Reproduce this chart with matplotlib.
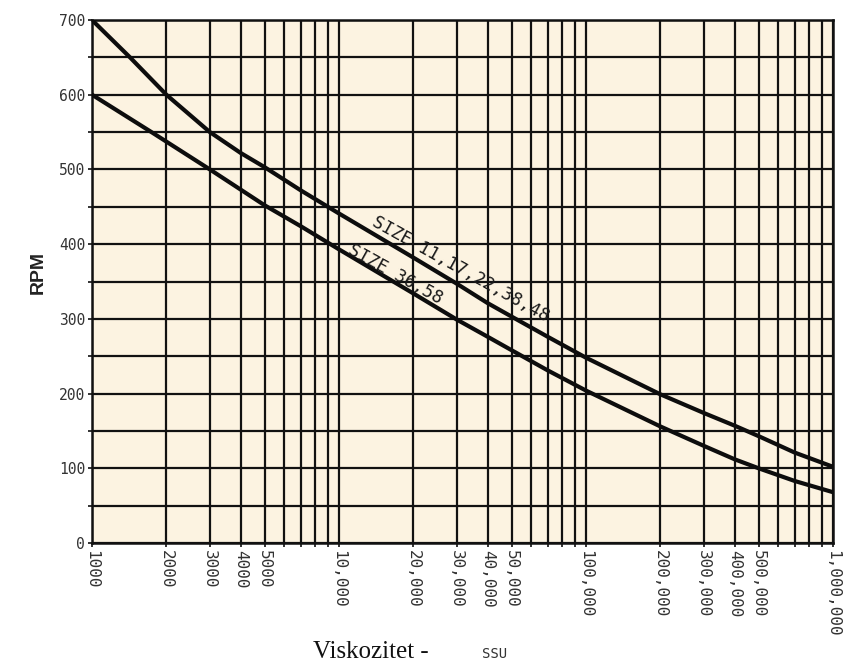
import matplotlib
matplotlib.use("Agg")
import matplotlib.pyplot as plt
import numpy as np

# ---- data ----
visc_upper = [1000, 1425, 2000, 3000, 4000, 5000, 7000, 10000, 20000, 30000, 40000,
              50000, 70000, 100000, 200000, 300000, 400000, 500000, 700000, 1000000]
rpm_upper = [700, 650, 600, 550, 522, 503, 472, 441, 382, 347, 321,
             303, 276, 248, 199, 174, 157, 143, 121, 102]
visc_lower = [1000, 1740, 3000, 5000, 7000, 10000, 20000, 30000, 40000, 50000,
              70000, 100000, 200000, 300000, 400000, 500000, 700000, 1000000]
rpm_lower = [600, 550, 500, 452, 424, 393, 334, 299, 276, 258,
             231, 204, 156, 130, 112, 100, 83, 68]

label_upper = "SIZE 11,17,22,38,48"
label_lower = "SIZE 36,58"

y_ticks = [0, 100, 200, 300, 400, 500, 600, 700]
x_label_ticks = [1000, 2000, 3000, 4000, 5000, 10000, 20000, 30000, 40000, 50000,
                 100000, 200000, 300000, 400000, 500000, 1000000]
x_tick_labels = ["1000", "2000", "3000", "4000", "5000", "10,000", "20,000", "30,000",
                 "40,000", "50,000", "100,000", "200,000", "300,000", "400,000",
                 "500,000", "1,000,000"]

W, H = 846, 668
fig = plt.figure(figsize=(W / 100, H / 100), dpi=100)
fig.patch.set_facecolor("white")
ax = fig.add_axes([92 / W, 1 - 543 / H, (833 - 92) / W, (543 - 20) / H])
ax.set_facecolor("#FCF3E1")

ax.set_xscale("log")
ax.set_xlim(1000, 1000000)
ax.set_ylim(0, 700)

# grid positions
grid_x = [m * 10 ** e for e in (3, 4, 5) for m in range(1, 10)] + [1000000]
ax.set_xticks(grid_x)
lab_map = dict(zip(x_label_ticks, x_tick_labels))
ax.set_xticklabels([lab_map.get(v, "") for v in grid_x])
ax.xaxis.set_minor_locator(matplotlib.ticker.NullLocator())
ax.set_yticks(np.arange(0, 701, 50))
ax.set_yticklabels([str(v) if v in y_ticks else "" for v in np.arange(0, 701, 50)])

ax.grid(True, which="major", color="#111111", linewidth=1.6)
ax.set_axisbelow(True)
for s in ax.spines.values():
    s.set_color("#111111")
    s.set_linewidth(1.8)

ax.tick_params(axis="both", which="major", direction="out", length=3, width=1.2,
               color="#111111", labelcolor="#333333")
for t in ax.get_xticklabels():
    t.set_rotation(270)
    t.set_fontfamily("DejaVu Sans Mono")
    t.set_fontsize(11.5)
    t.set_ha("center")
    t.set_va("top")
for t in ax.get_yticklabels():
    t.set_fontfamily("DejaVu Sans Mono")
    t.set_fontsize(10.5)
ax.tick_params(axis="x", pad=2)
ax.tick_params(axis="y", pad=2)

ax.plot(visc_upper, rpm_upper, color="#0d0d0d", linewidth=3.0,
        solid_joinstyle="round", zorder=3)
ax.plot(visc_lower, rpm_lower, color="#0d0d0d", linewidth=3.0,
        solid_joinstyle="round", zorder=3)

ax.text(31000, 367, label_upper, rotation=-29, rotation_mode="anchor",
        ha="center", va="center", fontsize=12.5, family="DejaVu Sans Mono",
        color="#1a1a1a", zorder=4)
ax.text(16900, 360, label_lower, rotation=-29, rotation_mode="anchor",
        ha="center", va="center", fontsize=12.5, family="DejaVu Sans Mono",
        color="#1a1a1a", zorder=4)

fig.text(38 / W, 1 - 272 / H, "RPM", rotation=90, ha="center", va="center",
         fontsize=14, fontweight="bold", family="Liberation Sans", color="#222222")
fig.text(313 / W, 1 - 652 / H, "Viskozitet -", ha="left", va="center",
         fontsize=18, family="Liberation Serif", color="#111111")
fig.text(482 / W, 1 - 654 / H, "SSU", ha="left", va="center",
         fontsize=10, family="DejaVu Sans Mono", color="#333333")

fig.savefig("out.png", dpi=100, facecolor="white")
